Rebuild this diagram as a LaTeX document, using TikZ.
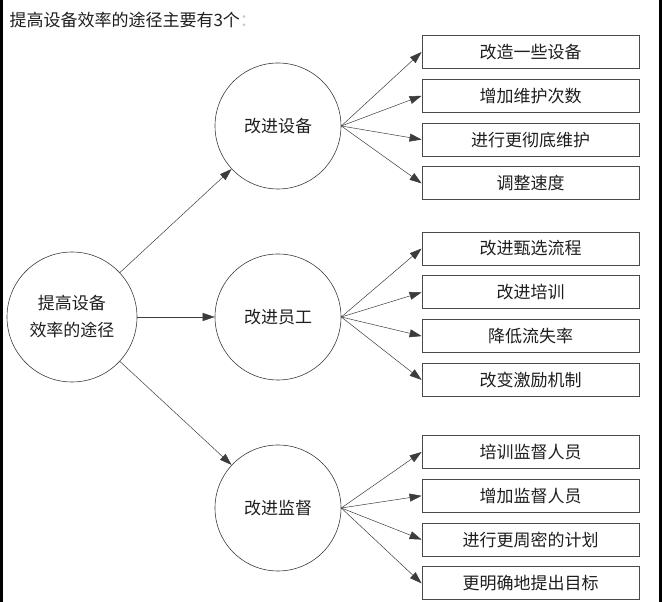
\documentclass[tikz,border=0pt]{standalone}
\usepackage{fontspec}
\setmainfont{Noto Sans CJK SC}
\usepackage{xcolor}
\definecolor{colLine}{HTML}{3C3C3C}
\definecolor{colBorder}{HTML}{4A4A4A}
\definecolor{colText}{HTML}{1E1E1E}
\usetikzlibrary{arrows.meta, positioning}
\tikzset{
    mycircle/.style={
        draw=colLine, circle, line width=0.6pt,
        minimum size=#1, inner sep=0pt,
        align=center,
        font=\fontsize{17}{27}\selectfont
    },
    mycircle/.default=126pt,
    mybox/.style={
        draw=colBorder, line width=0.8pt,
        minimum width=217pt, minimum height=33pt,
        inner sep=0pt,
        font=\fontsize{17}{20}\selectfont
    },
    myarrow/.style={-{Triangle[length=12pt, width=8pt]}, line width=0.5pt, color=colLine},
}

\begin{document}
\begin{tikzpicture}[x=1pt, y=1pt, node distance=10pt, text=colText]
    \useasboundingbox (0,0) rectangle (662,602);
    % dark edges of the scan
    \fill[black] (0,0) rectangle (2.5,602);
    \fill[black] (659,0) rectangle (662,602);

    \node[anchor=west, font=\fontsize{17}{20}\selectfont] (title) at (6,582)
          {提高设备效率的途径主要有3个\textcolor{gray!45}{：}};

    \node[mycircle=130pt] (root) at (72,285) {提高设备\\效率的途径};
    \node[mycircle] (equip) at (278,476) {改进设备};
    \node[mycircle] (staff) at (278,285) {改进员工};
    \node[mycircle] (super) at (278,94) {改进监督};

    \draw[myarrow] (root) -- (equip);
    \draw[myarrow] (root) -- (staff);
    \draw[myarrow] (root) -- (super);

    % equipment measures
    \node[mybox] (e1) at (530.5,550) {改造一些设备};
    \node[mybox, below=of e1] (e2) {增加维护次数};
    \node[mybox, below=of e2] (e3) {进行更彻底维护};
    \node[mybox, below=of e3] (e4) {调整速度};

    \draw[myarrow] (equip.east) -- (e1.west);
    \draw[myarrow] (equip.east) -- (e2.west);
    \draw[myarrow] (equip.east) -- (e3.west);
    \draw[myarrow] (equip.east) -- (e4.west);

    % staff measures
    \node[mybox] (s1) at (530.5,353.5) {改进甄选流程};
    \node[mybox, below=of s1] (s2) {改进培训};
    \node[mybox, below=of s2] (s3) {降低流失率};
    \node[mybox, below=of s3] (s4) {改变激励机制};

    \draw[myarrow] (staff.east) -- (s1.west);
    \draw[myarrow] (staff.east) -- (s2.west);
    \draw[myarrow] (staff.east) -- (s3.west);
    \draw[myarrow] (staff.east) -- (s4.west);

    % supervision measures
    \node[mybox] (v1) at (530.5,150) {培训监督人员};
    \node[mybox, below=of v1] (v2) {增加监督人员};
    \node[mybox, below=of v2] (v3) {进行更周密的计划};
    \node[mybox, below=of v3] (v4) {更明确地提出目标};

    \draw[myarrow] (super.east) -- (v1.west);
    \draw[myarrow] (super.east) -- (v2.west);
    \draw[myarrow] (super.east) -- (v3.west);
    \draw[myarrow] (super.east) -- (v4.west);
\end{tikzpicture}
\end{document}
